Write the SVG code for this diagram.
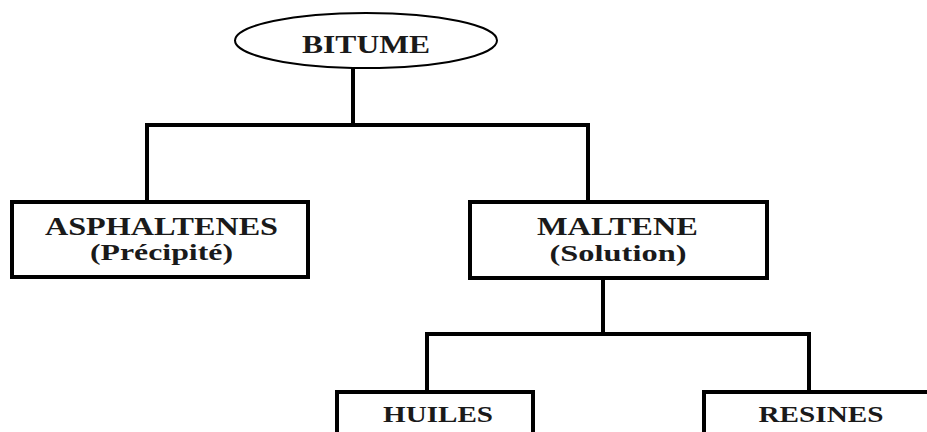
<svg xmlns="http://www.w3.org/2000/svg" width="927" height="432" viewBox="0 0 927 432">
<style>
.box{fill:#fff;stroke:#000;stroke-width:4}
.ell{fill:#fff;stroke:#000;stroke-width:2}
.lbl{font-family:"Liberation Serif","Times New Roman",serif;font-weight:bold;fill:#1a1a1a;text-anchor:middle}
.con{fill:none;stroke:#000;stroke-width:4;stroke-linecap:square}
</style>
<rect width="927" height="432" fill="#fff"/>
<g id="connectors">
<path class="con" d="M353 68V125M147 125H588M147 125V200M588 125V200"/>
<path class="con" d="M603 278V334M427 334H809M427 334V392M809 334V392"/>
</g>
<g id="bitume">
<ellipse class="ell" cx="366" cy="40.5" rx="131" ry="27.5"/>
<text class="lbl" x="366" y="53" font-size="25" textLength="128" lengthAdjust="spacingAndGlyphs">BITUME</text>
</g>
<g id="asphaltenes">
<rect class="box" x="12" y="202" width="296" height="75"/>
<text class="lbl" x="161.5" y="235" font-size="25" textLength="233" lengthAdjust="spacingAndGlyphs">ASPHALTENES</text>
<text class="lbl" x="161.5" y="260" font-size="24" textLength="143" lengthAdjust="spacingAndGlyphs">(Précipité)</text>
</g>
<g id="maltene">
<rect class="box" x="470" y="202" width="297" height="76"/>
<text class="lbl" x="617.5" y="235" font-size="25" textLength="161" lengthAdjust="spacingAndGlyphs">MALTENE</text>
<text class="lbl" x="618" y="261" font-size="24" textLength="137" lengthAdjust="spacingAndGlyphs">(Solution)</text>
</g>
<g id="huiles">
<rect class="box" x="337" y="392" width="196" height="60"/>
<text class="lbl" x="438" y="422" font-size="23" textLength="110" lengthAdjust="spacingAndGlyphs">HUILES</text>
</g>
<g id="resines">
<rect class="box" x="704" y="392" width="236" height="60"/>
<text class="lbl" x="821" y="422" font-size="23" textLength="125" lengthAdjust="spacingAndGlyphs">RESINES</text>
</g>
</svg>
